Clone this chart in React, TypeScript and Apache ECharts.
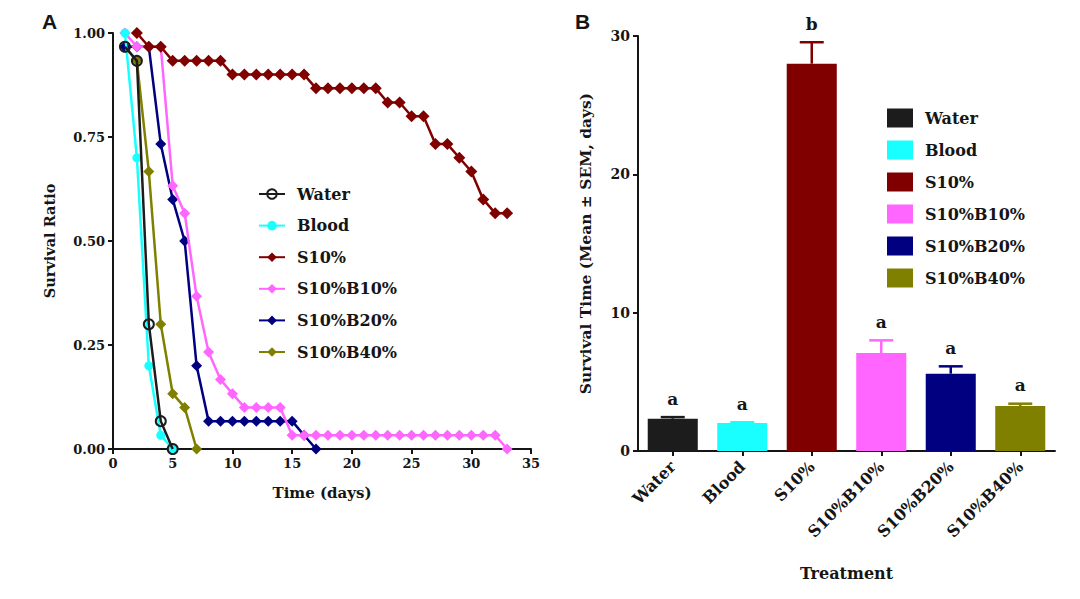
import React, { useEffect, useRef } from "react";
import * as echarts from "echarts";

const FONT = '"DejaVu Serif", serif';
const TXT = "#151515";

const groupNames = ["Water", "Blood", "S10%", "S10%B10%", "S10%B20%", "S10%B40%"];
const groupColors = ["#1c1c1c", "#19ffff", "#800000", "#ff66ff", "#000080", "#808000"];

// Panel A: survival ratio by day
const waterDays = [1, 2, 3, 4, 5];
const waterRatio = [0.967, 0.933, 0.3, 0.067, 0];

const bloodDays = [1, 2, 3, 4, 5];
const bloodRatio = [1, 0.7, 0.2, 0.033, 0];

const s10Days = [2, 3, 4, 5, 6, 7, 8, 9, 10, 11, 12, 13, 14, 15, 16, 17, 18, 19, 20, 21, 22, 23, 24, 25, 26, 27, 28, 29, 30, 31, 32, 33];
const s10Ratio = [1, 0.967, 0.967, 0.933, 0.933, 0.933, 0.933, 0.933, 0.9, 0.9, 0.9, 0.9, 0.9, 0.9, 0.9, 0.867, 0.867, 0.867, 0.867, 0.867, 0.867, 0.833, 0.833, 0.8, 0.8, 0.733, 0.733, 0.7, 0.667, 0.6, 0.567, 0.567];

const b10Days = [1, 2, 3, 4, 5, 6, 7, 8, 9, 10, 11, 12, 13, 14, 15, 16, 17, 18, 19, 20, 21, 22, 23, 24, 25, 26, 27, 28, 29, 30, 31, 32, 33];
const b10Ratio = [1, 0.967, 0.967, 0.967, 0.633, 0.567, 0.367, 0.233, 0.167, 0.133, 0.1, 0.1, 0.1, 0.1, 0.033, 0.033, 0.033, 0.033, 0.033, 0.033, 0.033, 0.033, 0.033, 0.033, 0.033, 0.033, 0.033, 0.033, 0.033, 0.033, 0.033, 0.033, 0];

const b20Days = [1, 2, 3, 4, 5, 6, 7, 8, 9, 10, 11, 12, 13, 14, 15, 16, 17];
const b20Ratio = [0.967, 0.967, 0.967, 0.733, 0.6, 0.5, 0.2, 0.067, 0.067, 0.067, 0.067, 0.067, 0.067, 0.067, 0.067, 0.033, 0];

const b40Days = [1, 2, 3, 4, 5, 6, 7];
const b40Ratio = [0.967, 0.933, 0.667, 0.3, 0.133, 0.1, 0];

// Panel B: mean survival time and SEM
const meanSurvival = [2.33, 2.02, 28.0, 7.08, 5.59, 3.25];
const semSurvival = [0.12, 0.06, 1.55, 0.92, 0.53, 0.17];
const groupLetters = ["a", "a", "b", "a", "a", "a"];

const pair = (d: number[], v: number[]) => d.map((x, i) => [x, v[i]]);

const lineDefs = [
  { days: waterDays, ratio: waterRatio, symbol: "circle", size: 10, empty: true },
  { days: bloodDays, ratio: bloodRatio, symbol: "circle", size: 9, empty: false },
  { days: s10Days, ratio: s10Ratio, symbol: "diamond", size: 12, empty: false },
  { days: b10Days, ratio: b10Ratio, symbol: "diamond", size: 11, empty: false },
  { days: b20Days, ratio: b20Ratio, symbol: "diamond", size: 11, empty: false },
  { days: b40Days, ratio: b40Ratio, symbol: "diamond", size: 11, empty: false },
];

const axisLineStyle = { lineStyle: { color: TXT, width: 2 } };
const axisTickStyle = { show: true, length: 5, lineStyle: { color: TXT, width: 2 } };
const tickLabel = (size: number) => ({ fontFamily: FONT, fontWeight: "bold" as const, fontSize: size, color: TXT });
const nameStyle = (size: number) => ({ fontFamily: FONT, fontWeight: "bold" as const, fontSize: size, color: TXT });

export default function App() {
  const ref = useRef<HTMLDivElement>(null);
  useEffect(() => {
    if (!ref.current) return;
    const chart = echarts.init(ref.current, undefined, { renderer: "svg" });

    const lineSeries = lineDefs.map((def, i) => ({
      type: "line",
      name: groupNames[i],
      xAxisIndex: 0,
      yAxisIndex: 0,
      data: pair(def.days, def.ratio),
      symbol: def.symbol,
      symbolSize: def.size,
      showAllSymbol: true,
      lineStyle: { color: groupColors[i], width: 2.5 },
      itemStyle: def.empty
        ? { color: "rgba(255,255,255,0)", borderColor: groupColors[i], borderWidth: 2 }
        : { color: groupColors[i] },
      z: 10 - i,
    }));

    const barSeries = groupNames.map((name, i) => ({
      type: "bar",
      name: "bar:" + name,
      xAxisIndex: 1,
      yAxisIndex: 1,
      stack: "bars",
      barWidth: "72%",
      data: groupNames.map((_, j) => (j === i ? meanSurvival[i] : "-")),
      itemStyle: { color: groupColors[i] },
    }));

    const errSeries = {
      type: "custom",
      name: "sem",
      xAxisIndex: 1,
      yAxisIndex: 1,
      encode: { x: 0, y: 1 },
      clip: false,
      z: 5,
      data: groupNames.map((_, i) => [i, meanSurvival[i], semSurvival[i]]),
      renderItem: (params: any, api: any) => {
        const idx = api.value(0);
        const m = api.value(1);
        const s = api.value(2);
        const base = api.coord([idx, m]);
        const top = api.coord([idx, m + s]);
        const c = groupColors[params.dataIndex];
        return {
          type: "group",
          children: [
            { type: "line", shape: { x1: base[0], y1: base[1], x2: top[0], y2: top[1] }, style: { stroke: c, lineWidth: 2.5 } },
            { type: "line", shape: { x1: top[0] - 12, y1: top[1], x2: top[0] + 12, y2: top[1] }, style: { stroke: c, lineWidth: 2.5 } },
            {
              type: "text",
              x: top[0],
              y: top[1] - 10,
              style: {
                text: groupLetters[params.dataIndex],
                fontFamily: FONT,
                fontWeight: "bold",
                fontSize: 17,
                fill: TXT,
                align: "center",
                verticalAlign: "bottom",
              },
            },
          ],
        };
      },
    };

    chart.setOption({
      animation: false,
      backgroundColor: "#ffffff",
      grid: [
        { left: 113, top: 33, width: 418, height: 416 },
        { left: 638, top: 36, width: 417, height: 415 },
      ],
      xAxis: [
        {
          type: "value",
          gridIndex: 0,
          min: 0,
          max: 35,
          interval: 5,
          name: "Time (days)",
          nameLocation: "middle",
          nameGap: 36,
          nameTextStyle: nameStyle(15),
          axisLine: axisLineStyle,
          axisTick: axisTickStyle,
          axisLabel: { ...tickLabel(13), margin: 8 },
          splitLine: { show: false },
        },
        {
          type: "category",
          gridIndex: 1,
          data: groupNames,
          name: "Treatment",
          nameLocation: "middle",
          nameGap: 114,
          nameTextStyle: nameStyle(16),
          axisLine: axisLineStyle,
          axisTick: { ...axisTickStyle, alignWithLabel: true },
          axisLabel: { ...tickLabel(16), rotate: 45, margin: 13, interval: 0 },
          splitLine: { show: false },
        },
      ],
      yAxis: [
        {
          type: "value",
          gridIndex: 0,
          min: 0,
          max: 1,
          interval: 0.25,
          name: "Survival Ratio",
          nameLocation: "middle",
          nameGap: 56,
          nameTextStyle: nameStyle(14.5),
          axisLine: { show: true, ...axisLineStyle },
          axisTick: axisTickStyle,
          axisLabel: { ...tickLabel(13), margin: 8, formatter: (v: number) => v.toFixed(2) },
          splitLine: { show: false },
        },
        {
          type: "value",
          gridIndex: 1,
          min: 0,
          max: 30,
          interval: 10,
          name: "Survival Time (Mean ± SEM, days)",
          nameLocation: "middle",
          nameGap: 45,
          nameTextStyle: nameStyle(15.5),
          axisLine: { show: true, ...axisLineStyle },
          axisTick: axisTickStyle,
          axisLabel: { ...tickLabel(14), margin: 8 },
          splitLine: { show: false },
        },
      ],
      legend: [
        {
          orient: "vertical",
          left: 253,
          top: 179,
          itemWidth: 26,
          itemHeight: 12,
          itemGap: 11.6,
          selectedMode: false,
          data: groupNames,
          textStyle: { fontFamily: FONT, fontWeight: "bold", fontSize: 16, color: TXT, lineHeight: 20, padding: [0, 0, 0, 7] },
        },
        {
          orient: "vertical",
          left: 882,
          top: 103,
          itemWidth: 26,
          itemHeight: 19,
          itemGap: 12,
          icon: "rect",
          selectedMode: false,
          data: groupNames.map((n) => "bar:" + n),
          formatter: (n: string) => n.replace("bar:", ""),
          textStyle: { fontFamily: FONT, fontWeight: "bold", fontSize: 16, color: TXT, lineHeight: 20, padding: [0, 0, 0, 7] },
        },
      ],
      graphic: [
        { type: "text", left: 42, top: 11, style: { text: "A", font: 'bold 21px "Liberation Sans", Arial, sans-serif', fill: TXT } },
        { type: "text", left: 575, top: 11, style: { text: "B", font: 'bold 21px "Liberation Sans", Arial, sans-serif', fill: TXT } },
      ],
      series: [...barSeries, errSeries, ...lineSeries],
    });
    return () => chart.dispose();
  }, []);
  return <div ref={ref} style={{ position: "fixed", left: 0, top: 0, width: 1080, height: 599, background: "#fff" }} />;
}
